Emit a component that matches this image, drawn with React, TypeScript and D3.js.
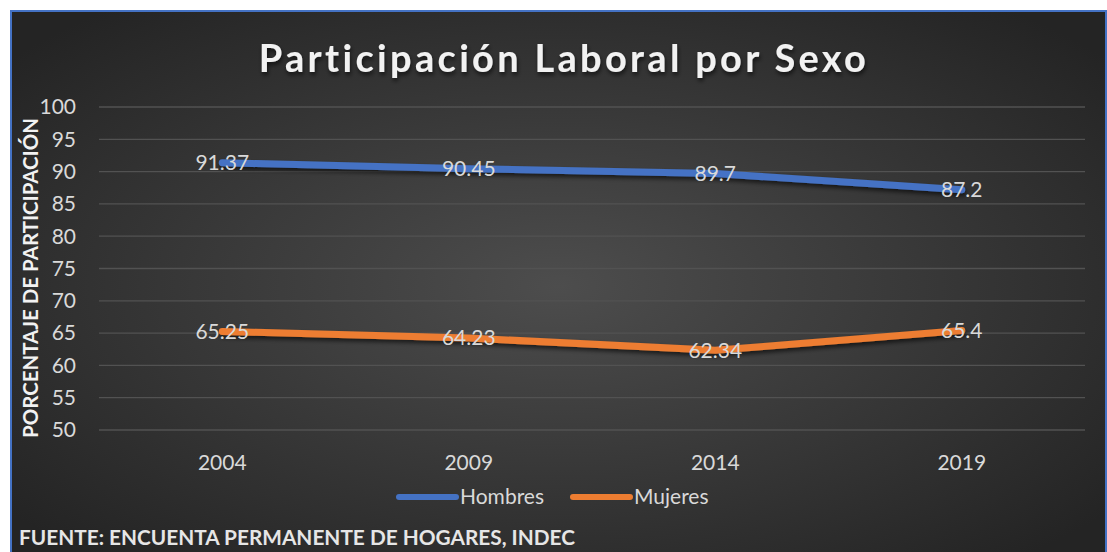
import React, { useEffect, useRef } from 'react';
import * as d3 from 'd3';

const years = ['2004', '2009', '2014', '2019'];
const hombres = [91.37, 90.45, 89.7, 87.2];
const mujeres = [65.25, 64.23, 62.34, 65.4];
const yTicks = [50, 55, 60, 65, 70, 75, 80, 85, 90, 95, 100];

const series = [
  { name: 'Hombres', values: hombres, color: '#4472c4' },
  { name: 'Mujeres', values: mujeres, color: '#ed7d31' },
];

const W = 1107;
const H = 552;
const FONT = 'Lato, "Open Sans", sans-serif';

const App = () => {
  const svgRef = useRef<SVGSVGElement>(null);

  useEffect(() => {
    const svg = d3.select(svgRef.current);
    svg.selectAll('*').remove();

    const defs = svg.append('defs');
    const grad = defs.append('radialGradient')
      .attr('id', 'bg')
      .attr('cx', '50%').attr('cy', '50%').attr('r', '65%');
    grad.append('stop').attr('offset', '0%').attr('stop-color', '#4d4d4d');
    grad.append('stop').attr('offset', '100%').attr('stop-color', '#242424');

    const shadow = defs.append('filter').attr('id', 'shadow')
      .attr('x', '-10%').attr('y', '-50%').attr('width', '120%').attr('height', '200%');
    shadow.append('feDropShadow')
      .attr('dx', 1).attr('dy', 3).attr('stdDeviation', 2)
      .attr('flood-color', '#000').attr('flood-opacity', 0.6);

    // Chart area box
    svg.append('rect')
      .attr('x', 11).attr('y', 11)
      .attr('width', 1095).attr('height', 550)
      .attr('fill', 'url(#bg)')
      .attr('stroke', '#4472c4')
      .attr('stroke-width', 2);

    const margin = { top: 107, left: 99 };
    const innerWidth = 986;
    const innerHeight = 323;

    const x = d3.scaleBand().domain(years).range([0, innerWidth]);
    const y = d3.scaleLinear().domain([50, 100]).range([innerHeight, 0]);
    const cx = (d: string) => (x(d) as number) + x.bandwidth() / 2;

    const g = svg.append('g')
      .attr('transform', `translate(${margin.left},${margin.top})`);

    // Gridlines
    g.selectAll('.grid')
      .data(yTicks)
      .enter().append('line')
      .attr('x1', 0).attr('x2', innerWidth)
      .attr('y1', d => y(d)).attr('y2', d => y(d))
      .attr('stroke', '#525252')
      .attr('stroke-width', 1.3);

    // Y tick labels
    g.selectAll('.ytick')
      .data(yTicks)
      .enter().append('text')
      .attr('x', -23)
      .attr('y', d => y(d))
      .attr('dy', '0.35em')
      .attr('text-anchor', 'end')
      .attr('fill', '#d9d9d9')
      .style('font-family', FONT)
      .style('font-size', '21px')
      .text(d => d);

    // X labels
    g.selectAll('.xtick')
      .data(years)
      .enter().append('text')
      .attr('x', d => cx(d))
      .attr('y', innerHeight + 40)
      .attr('text-anchor', 'middle')
      .attr('fill', '#d9d9d9')
      .style('font-family', FONT)
      .style('font-size', '21px')
      .text(d => d);

    // Lines
    const line = d3.line<number>()
      .x((_, i) => cx(years[i]))
      .y(d => y(d));

    series.forEach(s => {
      g.append('path')
        .datum(s.values)
        .attr('fill', 'none')
        .attr('stroke', s.color)
        .attr('stroke-width', 7)
        .attr('stroke-linecap', 'round')
        .attr('stroke-linejoin', 'round')
        .attr('filter', 'url(#shadow)')
        .attr('d', line);
    });

    // Data labels
    series.forEach(s => {
      g.selectAll(null)
        .data(s.values)
        .enter().append('text')
        .attr('x', (_, i) => cx(years[i]))
        .attr('y', d => y(d))
        .attr('dy', '0.35em')
        .attr('text-anchor', 'middle')
        .attr('fill', '#d9d9d9')
        .style('font-family', FONT)
        .style('font-size', '21px')
        .text(d => d);
    });

    // Title
    svg.append('text')
      .attr('x', 564)
      .attr('y', 72)
      .attr('text-anchor', 'middle')
      .attr('fill', '#f2f2f2')
      .attr('filter', 'url(#shadow)')
      .style('font-family', FONT)
      .style('font-size', '38px')
      .style('font-weight', 'bold')
      .style('letter-spacing', '3.3px')
      .text('Participación Laboral por Sexo');

    // Y axis title
    svg.append('text')
      .attr('transform', `translate(38,${278}) rotate(-90)`)
      .attr('text-anchor', 'middle')
      .attr('fill', '#f2f2f2')
      .attr('textLength', 320)
      .attr('lengthAdjust', 'spacingAndGlyphs')
      .style('font-family', FONT)
      .style('font-size', '20px')
      .style('font-weight', 'bold')
      .text('PORCENTAJE DE PARTICIPACIÓN');

    // Legend
    const legend = svg.append('g').attr('transform', 'translate(399,497)');
    const legendX = [0, 174];
    series.forEach((s, i) => {
      const lg = legend.append('g').attr('transform', `translate(${legendX[i]},0)`);
      lg.append('line')
        .attr('x1', 0).attr('x2', 57)
        .attr('y1', 0).attr('y2', 0)
        .attr('stroke', s.color)
        .attr('stroke-width', 6)
        .attr('stroke-linecap', 'round');
      lg.append('text')
        .attr('x', 61)
        .attr('y', 0)
        .attr('dy', '0.35em')
        .attr('fill', '#d9d9d9')
        .style('font-family', FONT)
        .style('font-size', '21px')
        .text(s.name);
    });

    // Source note
    svg.append('text')
      .attr('x', 19)
      .attr('y', 545)
      .attr('fill', '#e6e6e6')
      .attr('textLength', 556)
      .attr('lengthAdjust', 'spacingAndGlyphs')
      .style('font-family', FONT)
      .style('font-size', '20px')
      .style('font-weight', 'bold')
      .text('FUENTE: ENCUENTA PERMANENTE DE HOGARES, INDEC');
  }, []);

  return (
    <svg
      ref={svgRef}
      width={W}
      height={H}
      style={{ position: 'absolute', left: 0, top: 0, background: '#fff' }}
    />
  );
};

export default App;
